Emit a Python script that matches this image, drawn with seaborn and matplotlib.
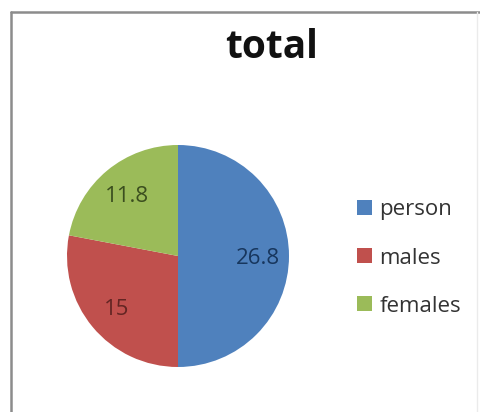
import matplotlib
matplotlib.use("Agg")
import matplotlib.pyplot as plt
import seaborn as sns
from matplotlib.lines import Line2D
from matplotlib.patches import Patch

categories = ["person", "males", "females"]
values = [26.8, 15, 11.8]
colors = ["#4F81BD", "#C0504D", "#9BBB59"]
label_colors = ["#17365D", "#632523", "#3B4E1F"]
title = "total"

sns.set_theme(style="white")
plt.rcParams["font.family"] = ["Open Sans", "DejaVu Sans"]

W, H = 480, 412
fig = plt.figure(figsize=(W / 100, H / 100), dpi=100)
fig.patch.set_facecolor("white")

cx, cy, r = 178, 256, 111
ax = fig.add_axes([(cx - r) / W, (H - cy - r) / H, 2 * r / W, 2 * r / H])
wedges, texts = ax.pie(values, colors=colors, startangle=90, counterclock=False,
                       labels=[str(v) for v in values], labeldistance=0.72,
                       wedgeprops=dict(linewidth=0))
for t, c in zip(texts, label_colors):
    t.set_ha("center")
    t.set_va("center_baseline")
    t.set_fontsize(16)
    t.set_color(c)
ax.set_xlim(-1, 1)
ax.set_ylim(-1, 1)
ax.set_aspect("auto")
ax.axis("off")

fig.text(272 / W, 1 - 48 / H, title, ha="center", va="center",
         fontsize=28, fontweight="bold", color="#111111")

handles = [Patch(facecolor=c, edgecolor="none") for c in colors]
leg = fig.legend(handles, categories, loc="center left",
                 bbox_to_anchor=(346 / W, 1 - 258 / H), frameon=False,
                 fontsize=16, handlelength=0.65, handleheight=0.65,
                 handletextpad=0.35, labelspacing=1.22, borderpad=0)
for t in leg.get_texts():
    t.set_color("#333333")

# chart border
fig.add_artist(Line2D([11 / W, 11 / W], [0, 1 - 12 / H], transform=fig.transFigure,
                      color="#8C8C8C", linewidth=1.8))
fig.add_artist(Line2D([11 / W, 1], [1 - 12 / H, 1 - 12 / H], transform=fig.transFigure,
                      color="#8C8C8C", linewidth=1.8))
fig.add_artist(Line2D([477 / W, 477 / W], [0, 1 - 12 / H], transform=fig.transFigure,
                      color="#EBEBEB", linewidth=1.0))

fig.savefig("out.png", dpi=100, facecolor="white")
